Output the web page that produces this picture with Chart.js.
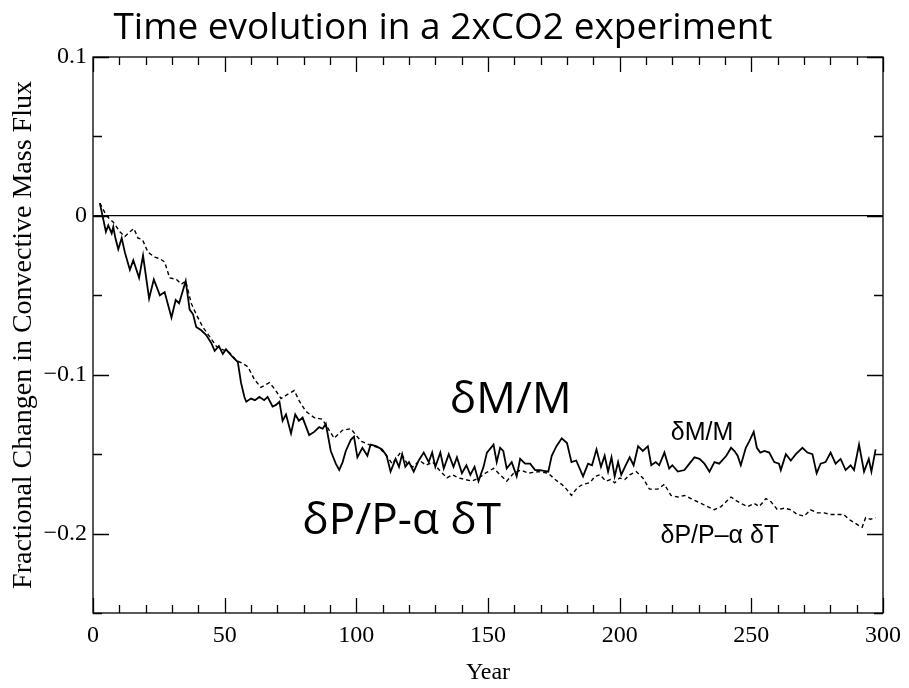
<!DOCTYPE html>
<html>
<head>
<meta charset="utf-8">
<script src="https://cdn.jsdelivr.net/npm/chart.js@4.4.0/dist/chart.umd.min.js"></script>
<style>
  html, body { margin: 0; padding: 0; background: #fff; }
</style>
</head>
<body>
<canvas id="fluxChart" width="909" height="688"></canvas>
<script>
// --- 1. DATA ---

// dM/M (solid line)
const mYears = [
  2.6, 4.9, 5.8, 7.1, 7.7, 8.5, 9.6, 10.9, 12.1, 14.0, 15.3, 17.5, 19.0, 21.3, 23.1, 25.4, 27.2,
  29.8, 31.4, 32.7, 35.2, 36.7, 38.0, 39.2, 41.1, 43.0, 44.9, 46.2, 47.8, 49.3, 50.5, 53.1, 55.0,
  56.2, 57.5, 58.2, 60.0, 61.5, 63.2, 65.0, 66.3, 68.2, 69.5, 70.8, 72.0, 73.3, 75.2, 76.8, 78.2,
  79.6, 82.1, 84.0, 85.9, 87.2, 88.4, 90.3, 92.2, 93.5, 94.8, 96.0, 97.9, 99.1, 100.4, 102.3,
  104.2, 105.4, 107.5, 109.8, 111.5, 113.0, 114.9, 116.2, 117.4, 118.6, 120.0, 121.8, 123.7,
  125.6, 127.5, 128.8, 130.0, 131.9, 133.2, 135.1, 136.9, 138.2, 140.1, 141.8, 143.3, 144.9,
  146.4, 148.3, 149.6, 152.1, 153.3, 154.6, 155.8, 157.1, 159.0, 160.9, 162.2, 164.1, 166.0,
  167.9, 169.7, 172.9, 174.2, 176.0, 178.0, 180.0, 181.7, 183.5, 186.1, 188.0, 189.5, 191.2,
  192.9, 194.3, 195.6, 196.9, 198.1, 199.4, 200.6, 202.0, 203.8, 205.3, 207.0, 208.8, 210.7,
  212.0, 213.7, 215.0, 217.0, 218.8, 220.0, 222.1, 224.6, 226.5, 228.4, 230.3, 232.2, 234.1,
  236.0, 237.8, 240.5, 242.3, 243.6, 244.8, 246.0, 247.9, 249.2, 250.9, 252.1, 253.4, 255.0,
  256.8, 258.7, 260.5, 261.2, 263.1, 265.0, 266.9, 269.4, 271.3, 273.2, 274.8, 276.3, 278.2,
  280.1, 282.0, 283.9, 285.8, 287.7, 289.0, 290.9, 292.8, 294.6, 295.6, 297.2
];
const mValues = [
  0.008, -0.010, -0.006, -0.011, -0.007, -0.014, -0.021, -0.014, -0.023, -0.034, -0.028, -0.039,
  -0.025, -0.052, -0.040, -0.050, -0.048, -0.064, -0.053, -0.055, -0.041, -0.059, -0.062, -0.070,
  -0.072, -0.075, -0.080, -0.085, -0.082, -0.087, -0.084, -0.089, -0.092, -0.105, -0.114, -0.117,
  -0.115, -0.116, -0.114, -0.116, -0.114, -0.120, -0.119, -0.117, -0.129, -0.125, -0.137, -0.125,
  -0.129, -0.127, -0.138, -0.136, -0.133, -0.134, -0.131, -0.148, -0.156, -0.160, -0.155, -0.148,
  -0.141, -0.139, -0.152, -0.146, -0.151, -0.144, -0.145, -0.147, -0.151, -0.161, -0.153, -0.158,
  -0.150, -0.158, -0.155, -0.161, -0.154, -0.149, -0.155, -0.149, -0.158, -0.149, -0.159, -0.150,
  -0.158, -0.152, -0.162, -0.157, -0.163, -0.158, -0.167, -0.158, -0.149, -0.144, -0.155, -0.146,
  -0.148, -0.159, -0.155, -0.164, -0.153, -0.156, -0.156, -0.160, -0.160, -0.161, -0.151, -0.145,
  -0.140, -0.143, -0.155, -0.154, -0.164, -0.156, -0.157, -0.147, -0.158, -0.151, -0.161, -0.152,
  -0.164, -0.155, -0.163, -0.158, -0.152, -0.157, -0.145, -0.148, -0.145, -0.157, -0.155, -0.157,
  -0.149, -0.159, -0.157, -0.161, -0.160, -0.156, -0.152, -0.153, -0.156, -0.161, -0.155, -0.156,
  -0.151, -0.146, -0.148, -0.151, -0.157, -0.146, -0.142, -0.136, -0.146, -0.149, -0.148, -0.149,
  -0.155, -0.156, -0.160, -0.150, -0.154, -0.150, -0.146, -0.149, -0.150, -0.162, -0.156, -0.155,
  -0.149, -0.156, -0.153, -0.160, -0.157, -0.160, -0.144, -0.161, -0.153, -0.161, -0.147
];

// dP/P - alpha dT (dashed line)
const pYears = [
  2.6, 4.5, 5.8, 7.7, 10.2, 12.1, 14.0, 15.5, 17.1, 18.8, 20.9, 23.5, 25.4, 27.2, 29.1, 31.7,
  33.6, 35.2, 37.3, 39.2, 41.7, 44.3, 46.8, 49.0, 51.8, 54.4, 56.9, 58.8, 61.3, 63.8, 67.0, 69.0,
  71.4, 73.3, 76.4, 78.5, 80.8, 84.0, 87.1, 89.7, 91.6, 94.7, 97.9, 99.8, 102.0, 104.8, 108.6,
  111.0, 113.6, 116.8, 119.3, 121.5, 124.0, 126.5, 129.0, 131.5, 134.4, 136.5, 138.9, 141.4,
  143.9, 146.5, 149.0, 152.1, 154.0, 157.1, 159.7, 162.5, 165.3, 169.1, 172.9, 175.5, 178.0,
  179.8, 181.7, 184.0, 186.1, 188.7, 190.6, 192.5, 194.8, 196.5, 198.1, 200.0, 202.0, 203.8,
  206.3, 208.8, 211.3, 214.5, 217.0, 219.5, 222.1, 224.6, 227.1, 230.9, 233.4, 235.9, 238.5,
  241.0, 242.3, 244.0, 246.0, 248.6, 251.0, 253.0, 255.5, 257.5, 259.9, 262.5, 265.0, 267.5,
  270.0, 272.5, 275.1, 277.6, 280.1, 282.6, 285.1, 287.0, 289.0, 290.9, 292.1, 293.4, 295.3, 297.2
];
const pValues = [
  0.008, 0.002, -0.001, -0.004, -0.010, -0.013, -0.010, -0.008, -0.014, -0.015, -0.023, -0.026,
  -0.027, -0.029, -0.039, -0.040, -0.043, -0.041, -0.055, -0.062, -0.070, -0.076, -0.082, -0.084,
  -0.086, -0.091, -0.093, -0.095, -0.103, -0.108, -0.105, -0.109, -0.115, -0.113, -0.110, -0.117,
  -0.123, -0.127, -0.128, -0.135, -0.140, -0.135, -0.134, -0.138, -0.142, -0.144, -0.146, -0.150,
  -0.156, -0.149, -0.156, -0.158, -0.154, -0.157, -0.155, -0.160, -0.165, -0.163, -0.165, -0.166,
  -0.167, -0.165, -0.162, -0.159, -0.162, -0.167, -0.162, -0.160, -0.162, -0.161, -0.162, -0.166,
  -0.169, -0.172, -0.176, -0.171, -0.169, -0.168, -0.164, -0.163, -0.167, -0.166, -0.168, -0.165,
  -0.166, -0.163, -0.161, -0.165, -0.172, -0.172, -0.169, -0.176, -0.177, -0.176, -0.178, -0.181,
  -0.183, -0.185, -0.183, -0.179, -0.177, -0.179, -0.181, -0.183, -0.181, -0.183, -0.178, -0.180,
  -0.185, -0.184, -0.185, -0.188, -0.189, -0.185, -0.187, -0.187, -0.188, -0.188, -0.188, -0.191,
  -0.193, -0.195, -0.196, -0.190, -0.191, -0.190
];

// axis ranges and text
const xRange = [0, 300];
const yRange = [-0.25, 0.1];
const chartTitle = "Time evolution in a 2xCO2 experiment";
const yTitle = "Fractional Changen in Convective Mass Flux";
const xTitle = "Year";

// labels written on the plot, anchored at (year, value) of their left baseline
const notes = [
  { text: "δM/M", x: 135.5, y: -0.124, font: "44px 'Open Sans'" },
  { text: "δP/P-α δT", x: 79.5, y: -0.200, font: "44px 'Open Sans'" },
  { text: "δM/M", x: 219.4, y: -0.141, font: "25px 'Liberation Sans'" },
  { text: "δP/P–α δT", x: 215.5, y: -0.206, font: "25px 'Liberation Sans'" }
];

// --- 2. PLUGINS ---

// closed frame with inward major/minor ticks on all four sides
const frameTicks = {
  id: "frameTicks",
  afterDraw(chart) {
    const { ctx, chartArea: a, scales: { x, y } } = chart;
    ctx.save();
    ctx.strokeStyle = "#000";
    ctx.lineWidth = 1.3;
    ctx.strokeRect(a.left, a.top, a.right - a.left, a.bottom - a.top);
    ctx.beginPath();
    for (let v = xRange[0]; v <= xRange[1]; v += 10) {
      const px = Math.round(x.getPixelForValue(v)) + 0.5;
      const len = v % 50 === 0 ? 15 : 8;
      ctx.moveTo(px, a.bottom); ctx.lineTo(px, a.bottom - len);
      ctx.moveTo(px, a.top); ctx.lineTo(px, a.top + len);
    }
    for (let k = -5; k <= 2; k++) {
      const py = Math.round(y.getPixelForValue(k * 0.05)) + 0.5;
      const len = k % 2 === 0 ? 16 : 9;
      ctx.moveTo(a.left, py); ctx.lineTo(a.left + len, py);
      ctx.moveTo(a.right, py); ctx.lineTo(a.right - len, py);
    }
    ctx.stroke();
    ctx.restore();
  }
};

const plotNotes = {
  id: "plotNotes",
  afterDatasetsDraw(chart) {
    const { ctx, scales: { x, y } } = chart;
    ctx.save();
    ctx.fillStyle = "#000";
    ctx.textAlign = "left";
    ctx.textBaseline = "alphabetic";
    notes.forEach((n) => {
      ctx.font = n.font;
      ctx.fillText(n.text, x.getPixelForValue(n.x), y.getPixelForValue(n.y));
    });
    ctx.restore();
  }
};

// --- 3. CHART ---
const toPoints = (xs, ys) => xs.map((v, i) => ({ x: v, y: ys[i] }));
const serif = "'Liberation Serif', 'Times New Roman', serif";

new Chart(document.getElementById("fluxChart"), {
  type: "line",
  data: {
    datasets: [
      {
        label: "δM/M",
        data: toPoints(mYears, mValues),
        borderColor: "#000",
        borderWidth: 1.8,
        pointRadius: 0,
        tension: 0,
      },
      {
        label: "δP/P–α δT",
        data: toPoints(pYears, pValues),
        borderColor: "#000",
        borderWidth: 1.4,
        borderDash: [4, 3],
        pointRadius: 0,
        tension: 0,
      },
    ],
  },
  options: {
    responsive: false,
    animation: false,
    layout: { padding: { top: 0, right: 23, left: 0, bottom: 0 } },
    plugins: {
      legend: { display: false },
      tooltip: { enabled: false },
      title: {
        display: true,
        text: chartTitle,
        color: "#000",
        font: { family: "'Open Sans'", size: 37, weight: "normal", lineHeight: 1.0 },
        padding: { top: 10, bottom: 10 },
      },
    },
    scales: {
      x: {
        type: "linear",
        min: xRange[0],
        max: xRange[1],
        afterFit: (s) => { s.height = 75; },
        grid: { display: false, drawTicks: false },
        border: { display: false },
        ticks: {
          stepSize: 50,
          maxRotation: 0,
          autoSkip: false,
          padding: 8,
          color: "#000",
          font: { family: serif, size: 24 },
        },
        title: {
          display: true,
          text: xTitle,
          color: "#000",
          font: { family: serif, size: 24 },
          padding: { top: 0, bottom: 1 },
        },
      },
      y: {
        min: yRange[0],
        max: yRange[1],
        afterFit: (s) => { s.width = 93; },
        grid: {
          drawTicks: false,
          lineWidth: 1.2,
          color: (c) => (Math.abs(c.tick.value) < 1e-9 ? "#000" : "rgba(0,0,0,0)"),
        },
        border: { display: false },
        ticks: {
          stepSize: 0.05,
          autoSkip: false,
          padding: 6,
          color: "#000",
          font: { family: serif, size: 24 },
          callback: (v) => {
            const r = Math.round(v * 100);
            if (r % 10 !== 0) return "";
            if (r === 0) return "0";
            return (r < 0 ? "−" : "") + (Math.abs(r) / 100).toString();
          },
        },
        title: {
          display: true,
          text: yTitle,
          color: "#000",
          font: { family: serif, size: 28 },
          padding: { top: 7, bottom: 0 },
        },
      },
    },
  },
  plugins: [frameTicks, plotNotes],
});
</script>
</body>
</html>
